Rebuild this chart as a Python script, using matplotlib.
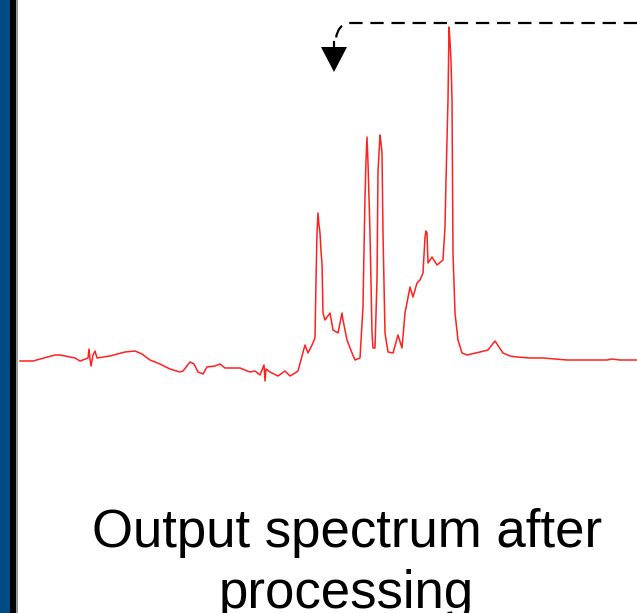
import numpy as np
import matplotlib
matplotlib.use("Agg")
import matplotlib.pyplot as plt
from matplotlib.path import Path
from matplotlib.patches import PathPatch, Polygon, Rectangle

# spectrum: channel position and intensity above baseline
channel = [20, 33, 55, 60, 75, 80, 88, 89, 90, 91, 93, 95, 97, 110, 125, 135,
           142, 150, 160, 170, 180, 183, 190, 194, 198, 203, 207, 215, 220, 225,
           240, 250, 255, 260, 264, 265, 266, 270, 278, 285, 290, 295, 298, 305,
           308, 312, 315, 316, 317, 318, 319, 320, 321, 322, 323, 325, 330, 333,
           338, 342, 343, 347, 352, 355, 360, 363, 364, 365, 366, 367, 368, 370,
           372, 373, 375, 377, 378, 379, 380, 381, 382, 383, 385, 388, 393, 398,
           402, 405, 410, 413, 417, 420, 423, 425, 426, 427, 428, 432, 437, 443,
           445, 446, 447, 448, 449, 450, 451, 452, 453, 455, 458, 462, 467, 480,
           488, 495, 503, 510, 517, 530, 543, 567, 590, 607, 612, 620, 637]
intensity = [0, 0, 6, 6, 3, 0, 3, 12, 2, -5, 6, 10, 3, 5, 9, 10,
             7, 1, -3, -8, -11, -10, -1, -3, -11, -13, -6, -5, -3, -7,
             -7, -11, -10, -14, -4, -20, -8, -11, -15, -10, -15, -12, -10, 16,
             8, 16, 23, 80, 128, 148, 136, 128, 110, 98, 48, 41, 48, 31,
             28, 48, 41, 21, 8, 1, 3, 54, 110, 164, 200, 224, 198, 128,
             28, 13, 13, 81, 190, 208, 226, 218, 208, 128, 28, 9, 8, 26,
             13, 48, 74, 64, 78, 81, 88, 124, 130, 128, 98, 104, 96, 101,
             134, 180, 221, 261, 334, 320, 300, 261, 108, 48, 21, 8, 6, 9,
             11, 20, 8, 5, 4, 3, 3, 1, 1, 1, 2, 1, 1]

caption_lines = ["Output spectrum after", "processing"]

W, H = 637, 613
fig = plt.figure(figsize=(W / 100, H / 100), dpi=100)
ax = fig.add_axes([0, 0, 1, 1])
ax.set_xlim(0, W)
# baseline of the spectrum sits at pixel row 361
ax.set_ylim(361 - H, 361)
ax.axis("off")

# left border bar
ax.add_patch(Rectangle((0, 361 - H), 10, H, color="#004b84", lw=0))
ax.add_patch(Rectangle((10, 361 - H), 6, H, color="#000000", lw=0))
ax.add_patch(Rectangle((16, 361 - H), 1.5, H, color="#9a9a9a", lw=0))

ax.plot(channel, intensity, color="#ff2020", lw=1.1, solid_joinstyle="round")

# dashed feedback arrow from the right edge back down
verts = [(W, 361 - 23), (350, 361 - 23), (338, 361 - 24), (336, 361 - 38)]
codes = [Path.MOVETO, Path.LINETO, Path.CURVE3, Path.CURVE3]
ax.add_patch(PathPatch(Path(verts, codes), fill=False, color="black", lw=1.6,
                       linestyle=(0, (6, 3.5)), capstyle="butt"))
ax.plot([334, 334], [361 - 42, 361 - 48], color="black", lw=1.6)
ax.add_patch(Polygon([(321, 361 - 47), (347, 361 - 47), (334, 361 - 72)],
                     closed=True, color="black", lw=0))

ax.text(347.5, 361 - 547, caption_lines[0], ha="center", va="baseline",
        fontsize=38, family="Liberation Sans", color="black")
ax.text(346, 361 - 608, caption_lines[1], ha="center", va="baseline",
        fontsize=38, family="Liberation Sans", color="black")

fig.savefig("out.png", dpi=100)
